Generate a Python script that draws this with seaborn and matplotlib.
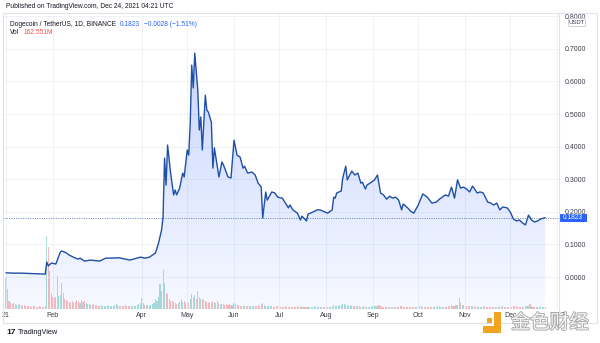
import numpy as np
import pandas as pd
import matplotlib
matplotlib.use("Agg")
import matplotlib.pyplot as plt
import seaborn as sns
from matplotlib.patches import Rectangle, Polygon, FancyBboxPatch
from matplotlib.colors import LinearSegmentedColormap
import matplotlib.patheffects as pe

# ---------------- data ----------------
# days since 2021-01-01 and DOGE/USDT daily close
price_day = [0, 5, 10, 15, 20, 26, 27, 28, 30, 33, 36, 37, 40, 42, 46, 48, 49, 52, 56, 62,
             66, 69, 75, 82, 89, 92, 95, 99, 101, 103, 104, 105, 106, 107, 109, 111, 112, 113,
             115, 117, 118, 120, 121, 122, 123, 124, 125, 127, 128, 129, 130, 132, 133, 134,
             136, 137, 138, 141, 143, 144, 147, 149, 151, 153, 155, 157, 158, 160, 163, 165,
             167, 169, 170, 172, 173, 176, 178, 180, 183, 185, 187, 188, 190, 193, 195, 196,
             199, 200, 203, 206, 208, 210, 213, 216, 217, 218, 219, 222, 223, 225, 226, 229,
             231, 233, 235, 236, 238, 239, 242, 244, 246, 248, 250, 252, 254, 256, 258, 260,
             262, 263, 266, 268, 270, 273, 276, 279, 282, 285, 287, 291, 293, 295, 297, 299,
             301, 303, 305, 307, 309, 312, 314, 316, 319, 321, 323, 325, 327, 329, 332, 334,
             336, 338, 340, 342, 344, 346, 348, 350, 352, 354, 357]
price = [0.013, 0.012, 0.012, 0.011, 0.010, 0.009, 0.046, 0.034, 0.043, 0.040, 0.077, 0.080,
         0.074, 0.067, 0.058, 0.055, 0.058, 0.049, 0.052, 0.049, 0.058, 0.058, 0.059, 0.052,
         0.061, 0.058, 0.061, 0.074, 0.104, 0.144, 0.184, 0.365, 0.282, 0.405, 0.319, 0.252,
         0.267, 0.252, 0.273, 0.319, 0.307, 0.390, 0.374, 0.472, 0.650, 0.580, 0.687, 0.574,
         0.451, 0.491, 0.390, 0.558, 0.512, 0.506, 0.475, 0.334, 0.396, 0.307, 0.353, 0.344,
         0.307, 0.304, 0.420, 0.374, 0.368, 0.334, 0.340, 0.319, 0.322, 0.313, 0.288, 0.276,
         0.181, 0.261, 0.236, 0.261, 0.258, 0.245, 0.242, 0.227, 0.212, 0.221, 0.206, 0.196,
         0.175, 0.187, 0.172, 0.193, 0.199, 0.206, 0.206, 0.202, 0.196, 0.206, 0.245, 0.242,
         0.258, 0.264, 0.304, 0.340, 0.298, 0.325, 0.313, 0.319, 0.288, 0.291, 0.270, 0.282,
         0.291, 0.298, 0.313, 0.258, 0.252, 0.239, 0.248, 0.242, 0.245, 0.236, 0.206, 0.224,
         0.212, 0.202, 0.196, 0.221, 0.255, 0.245, 0.227, 0.230, 0.239, 0.252, 0.248, 0.276,
         0.242, 0.298, 0.273, 0.276, 0.270, 0.261, 0.279, 0.258, 0.261, 0.258, 0.230, 0.227,
         0.221, 0.227, 0.206, 0.215, 0.212, 0.199, 0.178, 0.172, 0.175, 0.166, 0.160, 0.190,
         0.175, 0.169, 0.172, 0.178, 0.1823]

# daily volume (billion DOGE), month by month
vol_jan = [3.2, 2.0, 0.8, 0.6, 0.5, 0.6, 0.5, 0.4, 0.4, 0.5, 0.4, 0.3, 0.4, 0.3, 0.3, 0.3, 0.3,
           0.2, 0.3, 0.3, 0.2, 0.2, 0.3, 0.2, 0.2, 0.2, 0.3, 7.3, 6.2, 3.8, 1.6]
vol_feb = [1.2, 1.1, 1.2, 3.3, 1.3, 1.4, 2.6, 1.6, 1.0, 0.9, 0.8, 0.6, 0.7, 0.8, 0.6, 0.7, 0.9,
           0.8, 0.6, 0.9, 0.7, 0.8, 0.6, 0.5, 0.5, 0.4, 0.4, 0.5]
vol_mar = [0.4, 0.4, 0.3, 0.3, 0.4, 0.3, 0.3, 0.3, 0.3, 0.4, 0.3, 0.3, 0.3, 0.4, 0.5, 0.4, 0.3,
           0.3, 0.3, 0.3, 0.4, 0.3, 0.3, 0.3, 0.3, 0.3, 0.3, 0.3, 0.4, 0.5, 0.6]
vol_apr = [1.1, 0.6, 0.4, 0.4, 0.4, 0.3, 0.4, 0.5, 0.6, 1.0, 0.8, 1.2, 2.5, 1.8, 3.9, 2.6, 1.6,
           1.5, 1.0, 0.8, 0.8, 0.7, 0.6, 0.5, 0.6, 0.7, 1.0, 0.7, 0.8, 0.6]
vol_may = [0.7, 0.6, 1.0, 1.5, 1.2, 1.4, 1.0, 1.8, 1.2, 1.0, 1.0, 0.9, 0.8, 0.7, 0.6, 0.7, 0.6,
           0.8, 0.7, 0.6, 0.8, 0.6, 0.5, 0.5, 0.5, 0.4, 0.5, 0.4, 0.5, 0.4, 0.4]
vol_jun = [0.6, 0.5, 0.4, 0.4, 0.3, 0.3, 0.4, 0.3, 0.3, 0.3, 0.3, 0.3, 0.3, 0.3, 0.3, 0.3, 0.4,
           0.3, 0.5, 0.6, 0.4, 0.3, 0.3, 0.3, 0.3, 0.3, 0.2, 0.2, 0.3, 0.3]
vol_jul = [0.3, 0.2, 0.2, 0.2, 0.3, 0.2, 0.2, 0.2, 0.2, 0.2, 0.2, 0.2, 0.3, 0.2, 0.3, 0.2, 0.2,
           0.2, 0.2, 0.2, 0.2, 0.2, 0.2, 0.3, 0.2, 0.2, 0.2, 0.2, 0.2, 0.2, 0.2]
vol_aug = [0.2, 0.2, 0.2, 0.2, 0.2, 0.4, 0.3, 0.3, 0.3, 0.4, 0.4, 0.5, 0.5, 0.4, 0.4, 0.3, 0.4,
           0.3, 0.3, 0.3, 0.3, 0.3, 0.3, 0.2, 0.2, 0.3, 0.2, 0.2, 0.2, 0.2, 0.2]
vol_sep = [0.3, 0.3, 0.3, 0.3, 0.4, 0.3, 0.2, 0.2, 0.2, 0.2, 0.2, 0.2, 0.2, 0.2, 0.2, 0.2, 0.2,
           0.2, 0.3, 0.3, 0.2, 0.2, 0.2, 0.2, 0.2, 0.2, 0.2, 0.2, 0.2, 0.2]
vol_oct = [0.2, 0.3, 0.3, 0.2, 0.2, 0.2, 0.2, 0.2, 0.2, 0.2, 0.2, 0.2, 0.2, 0.3, 0.3, 0.2, 0.2,
           0.2, 0.2, 0.2, 0.3, 0.3, 0.4, 0.3, 0.3, 0.4, 0.4, 1.1, 0.6, 0.4, 0.4]
vol_nov = [0.3, 0.3, 0.3, 0.3, 0.3, 0.3, 0.3, 0.2, 0.2, 0.2, 0.2, 0.2, 0.2, 0.3, 0.2, 0.2, 0.2,
           0.2, 0.2, 0.2, 0.2, 0.2, 0.2, 0.3, 0.2, 0.3, 0.2, 0.2, 0.2, 0.2]
vol_dec = [0.2, 0.2, 0.3, 0.3, 0.3, 0.2, 0.2, 0.2, 0.2, 0.2, 0.3, 0.3, 0.3, 0.5, 0.3, 0.2, 0.2,
           0.2, 0.2, 0.2, 0.2, 0.2, 0.2, 0.16]

month_day = [0, 31, 90, 120, 151, 181, 212, 243, 273, 304, 334, 365]
month_label = ["21", "Feb", "Apr", "May", "Jun", "Jul", "Aug", "Sep", "Oct", "Nov", "Dec", "2022"]
y_ticks = [0.0, 0.1, 0.2, 0.3, 0.4, 0.5, 0.6, 0.7, 0.8]
last_price = 0.1823

# ---------------- figure ----------------
sns.set_theme(style="white")
plt.rcParams["font.family"] = ["Liberation Sans", "DejaVu Sans"]

W, H = 600, 343
fig = plt.figure(figsize=(6.0, 3.43), dpi=100)
fig.patch.set_facecolor("white")

L, R, T, B = 4, 559, 13, 309
rect = [L / W, 1 - B / H, (R - L) / W, (B - T) / H]
XLIM = (-1.32, 366.2)
YLIM = (-0.098, 0.810)

# volume pane (behind)
volume = vol_jan + vol_feb + vol_mar + vol_apr + vol_may + vol_jun + vol_jul + vol_aug + \
    vol_sep + vol_oct + vol_nov + vol_dec
vday = np.arange(len(volume))
p_now = np.interp(vday, price_day, price)
p_prev = np.interp(vday - 1, price_day, price)
vdf = pd.DataFrame({"day": vday, "vol": volume,
                    "dir": np.where(p_now >= p_prev - 1e-9, "up", "down")})

axv = fig.add_axes(rect)
sns.barplot(data=vdf, x="day", y="vol", hue="dir", native_scale=True, dodge=False,
            palette={"up": "#26a69a", "down": "#ef5350"}, saturation=1, alpha=0.38,
            width=0.7, linewidth=0, legend=False, ax=axv)
axv.set_xlim(*XLIM)
axv.set_ylim(0, 29.6)
axv.axis("off")

# price pane
ax = fig.add_axes(rect)
ax.patch.set_alpha(0)
df = pd.DataFrame({"day": price_day, "price": price})

# gradient area fill
verts = np.column_stack([np.r_[price_day[0], price_day, price_day[-1]],
                         np.r_[YLIM[0], price, YLIM[0]]])
poly = Polygon(verts, closed=True, facecolor="none", edgecolor="none")
ax.add_patch(poly)
cmap = LinearSegmentedColormap.from_list(
    "g", [(41 / 255, 98 / 255, 1.0, 0.04), (41 / 255, 98 / 255, 1.0, 0.26)])
im = ax.imshow(np.linspace(0, 1, 256).reshape(-1, 1), cmap=cmap, origin="lower",
               extent=[price_day[0], price_day[-1], YLIM[0], max(price)],
               aspect="auto", zorder=1, interpolation="bilinear")
im.set_clip_path(poly)

sns.lineplot(data=df, x="day", y="price", color="#1f4fa6", linewidth=1.0, ax=ax, zorder=3)
ax.axhline(last_price, color="#4a6fb5", lw=0.6, ls=(0, (1.2, 1.6)), zorder=2)

ax.set_xlim(*XLIM)
ax.set_ylim(*YLIM)
ax.set_xlabel("")
ax.set_ylabel("")
for s in ax.spines.values():
    s.set_visible(False)

ax.set_yticks(y_ticks)
ax.set_yticklabels([f"{v:.4f}" for v in y_ticks])
ax.yaxis.tick_right()
ax.tick_params(axis="y", length=0, pad=4.3, labelsize=5.0, labelcolor="#3b3f4a")
ax.set_xticks(month_day)
ax.set_xticklabels(month_label)
ax.tick_params(axis="x", length=0, pad=2.5, labelsize=5.0, labelcolor="#3b3f4a")
ax.grid(True, color="#edf0f5", lw=0.6)
ax.set_axisbelow(True)

# ---------------- chrome overlay ----------------
ov = fig.add_axes([0, 0, 1, 1])
ov.set_xlim(0, W)
ov.set_ylim(H, 0)
ov.axis("off")
ov.patch.set_alpha(0)

ov.add_patch(Rectangle((3, 13), 594, 310, fill=False, ec="#e0e3eb", lw=0.8))
ov.plot([559, 559], [13, 323], color="#e0e3eb", lw=0.8)

fs = 4.8
ov.text(6, 7, "Published on TradingView.com, Dec 24, 2021 04:21 UTC", fontsize=fs,
        color="#131722", va="center", ha="left")
t1 = ov.text(10, 24, "Dogecoin / TetherUS, 1D, BINANCE", fontsize=fs,
             color="#131722", va="center", ha="left")
t2 = ov.annotate("0.1823", xy=(1, 0.5), xycoords=t1, xytext=(3, 0), textcoords="offset points",
                 fontsize=fs, color="#2962ff", va="center", ha="left")
ov.annotate("\u22120.0028 (\u22121.51%)", xy=(1, 0.5), xycoords=t2, xytext=(2.5, 0),
            textcoords="offset points", fontsize=fs, color="#2962ff", va="center", ha="left")
t3 = ov.text(10, 33, "Vol", fontsize=fs, color="#131722", va="center")
ov.annotate("162.551M", xy=(1, 0.5), xycoords=t3, xytext=(3, 0), textcoords="offset points",
            fontsize=fs, color="#ef5350", va="center", ha="left")

# USDT badge
ov.add_patch(FancyBboxPatch((568.5, 18.5), 17, 8, boxstyle="round,pad=0,rounding_size=1.2",
                            fc="white", ec="#c5c9d3", lw=0.6))
ov.text(577, 22.7, "USDT", fontsize=4.3, color="#3b3f4a", ha="center", va="center")

# last price badge
ov.add_patch(Rectangle((559, 213.5), 28, 8.5, fc="#2962ff", ec="none"))
ov.text(573, 217.8, "0.1823", fontsize=4.8, color="white", ha="center", va="center")

# TradingView footer
ov.text(6, 333, "17", fontsize=6, weight="bold", color="#131722", va="center", ha="left")
ov.text(18, 333, "TradingView", fontsize=5.3, color="#131722", va="center")

# watermark
orange = "#f0a422"
ov.add_patch(Rectangle((494, 312), 6.5, 21, fc=orange, ec="none"))
ov.add_patch(Rectangle((483, 326), 17.5, 7, fc=orange, ec="none"))
ov.add_patch(Rectangle((486.5, 317.5), 5.5, 5.5, fc=orange, ec="none"))
ov.text(550, 323, "金色财经", fontsize=14, family=["Noto Sans CJK SC", "DejaVu Sans"],
        color="#f5f5f5", ha="center", va="center",
        path_effects=[pe.withStroke(linewidth=1.3, foreground="#a8a8a8")])

fig.savefig("out.png", dpi=100)
